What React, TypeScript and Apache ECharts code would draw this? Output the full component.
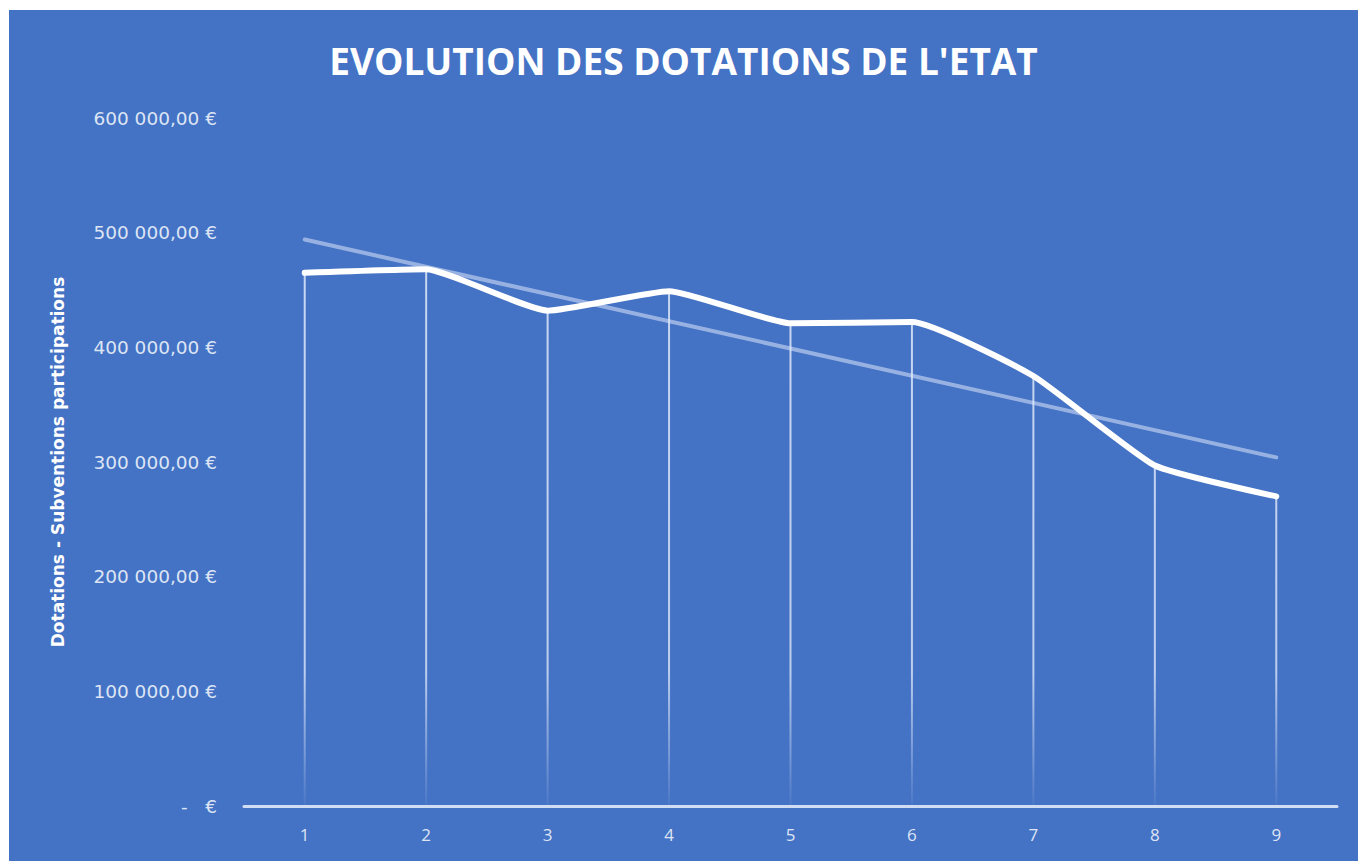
import React, { useEffect, useRef } from "react";
import * as echarts from "echarts";

const categories = ["1", "2", "3", "4", "5", "6", "7", "8", "9"];
const dotations = [465000, 468000, 432000, 449000, 421000, 422000, 375000, 297000, 270000];
const trendCategories = ["1", "9"];
const trendValues = [494000, 304000];
const yTicks = [0, 100000, 200000, 300000, 400000, 500000, 600000];

const titleText = "EVOLUTION DES DOTATIONS DE L'ETAT";
const yAxisName = "Dotations - Subventions participations";

function fmtEuro(v: number): string {
  if (v === 0) return "-   €";
  const intPart = Math.round(v).toString().replace(/\B(?=(\d{3})+(?!\d))/g, " ");
  return intPart + ",00 €";
}

export default function App() {
  const ref = useRef<HTMLDivElement>(null);

  useEffect(() => {
    if (!ref.current) return;
    const chart = echarts.init(ref.current, undefined, { renderer: "svg" });
    const labelColor = "#dde5f5";
    chart.setOption({
      animation: false,
      backgroundColor: "#4472C4",
      title: {
        text: titleText,
        left: "center",
        top: 27,
        textStyle: {
          color: "#ffffff",
          fontFamily: "Open Sans",
          fontWeight: "bold",
          fontSize: 37,
        },
      },
      grid: { left: 235, right: 21, top: 108, bottom: 55, containLabel: false },
      xAxis: {
        type: "category",
        data: categories,
        boundaryGap: true,
        axisLine: { show: true, lineStyle: { color: "rgba(225,233,248,0.9)", width: 3 } },
        axisTick: { show: false },
        axisLabel: {
          color: labelColor,
          fontFamily: "Open Sans",
          fontSize: 17,
          margin: 20,
        },
        splitLine: { show: false },
      },
      yAxis: {
        type: "value",
        min: yTicks[0],
        max: yTicks[yTicks.length - 1],
        interval: 100000,
        name: yAxisName,
        nameLocation: "middle",
        nameRotate: 90,
        nameGap: 178,
        nameTextStyle: {
          color: "#ffffff",
          fontFamily: "DejaVu Sans",
          fontWeight: "bold",
          fontSize: 17,
        },
        axisLine: { show: false },
        axisTick: { show: false },
        splitLine: { show: false },
        axisLabel: {
          color: labelColor,
          fontFamily: "DejaVu Sans",
          fontSize: 18.5,
          margin: 27,
          formatter: (v: number) => fmtEuro(v),
        },
      },
      series: [
        {
          type: "bar",
          data: dotations,
          barWidth: 2,
          silent: true,
          itemStyle: {
            color: {
              type: "linear",
              x: 0,
              y: 0,
              x2: 0,
              y2: 796,
              global: true,
              colorStops: [
                { offset: 0, color: "rgba(230,238,252,0.85)" },
                { offset: 0.83, color: "rgba(230,238,252,0.75)" },
                { offset: 1, color: "rgba(230,238,252,0.05)" },
              ],
            },
          },
          z: 1,
        },
        {
          type: "line",
          data: trendCategories.map((c, i) => [c, trendValues[i]]),
          showSymbol: false,
          symbol: "none",
          lineStyle: { color: "rgba(220,232,252,0.55)", width: 4, cap: "round" },
          z: 2,
        },
        {
          type: "line",
          data: dotations,
          showSymbol: false,
          symbol: "none",
          smooth: 0.15,
          lineStyle: { color: "#ffffff", width: 6, cap: "round", join: "round" },
          z: 3,
        },
      ],
    });
    return () => chart.dispose();
  }, []);

  return (
    <div
      ref={ref}
      style={{ position: "absolute", left: 9, top: 10, width: 1349, height: 851 }}
    />
  );
}
